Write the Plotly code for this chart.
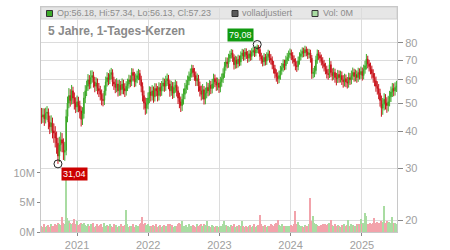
import plotly.graph_objects as go
import pandas as pd
import math

dates = pd.date_range("2020-07-03", periods=261, freq="7D")

closes = [
44.8, 45.6, 44.2, 46.1, 46.5, 43.0, 41.5, 42.8, 40.2, 39.5,
38.0, 36.5, 33.0, 36.0, 37.5, 36.5, 34.0, 34.5, 45.0, 50.0,
53.0, 51.0, 55.0, 52.0, 50.0, 48.5, 50.5, 49.0, 47.0, 44.0,
46.0, 52.0, 55.0, 57.0, 60.0, 58.0, 61.0, 62.0, 59.0, 57.0,
58.5, 56.0, 55.0, 53.5, 51.5, 51.0, 55.0, 59.0, 61.0, 60.0,
62.5, 63.5, 59.0, 58.0, 56.5, 58.0, 55.0, 57.5, 55.5, 58.0,
56.0, 55.0, 57.0, 58.0, 60.0, 59.0, 63.5, 62.0, 59.0, 60.5,
62.0, 63.0, 60.0, 57.0, 53.0, 50.0, 48.0, 49.5, 52.0, 54.5,
53.0, 55.0, 52.5, 56.0, 55.0, 53.0, 56.5, 55.0, 57.0, 58.5,
57.0, 59.5, 60.5, 58.0, 55.0, 57.0, 54.0, 56.5, 57.5, 55.0,
52.0, 50.5, 49.0, 51.5, 53.5, 56.0, 57.5, 59.5, 61.5, 63.0,
65.5, 63.5, 62.0, 59.5, 60.5, 57.0, 55.0, 53.5, 55.5, 51.5,
54.0, 56.5, 55.0, 57.5, 56.0, 58.0, 60.5, 59.0, 57.5, 58.5,
56.5, 59.0, 60.5, 63.0, 66.5, 69.0, 68.0, 71.0, 73.0, 74.0,
71.5, 67.5, 70.0, 68.0, 70.5, 69.0, 72.5, 74.0, 72.0, 74.5,
73.0, 71.0, 73.5, 72.0, 74.5, 75.5, 74.0, 76.0, 77.5, 76.0,
72.0, 70.5, 69.0, 71.5, 69.5, 72.0, 73.5, 71.0, 70.0, 67.5,
65.5, 63.0, 61.5, 60.5, 62.0, 64.5, 66.0, 68.0, 67.0, 70.0,
71.5, 73.0, 74.0, 72.5, 70.5, 69.0, 67.0, 66.5, 69.5, 72.0,
73.5, 75.0, 74.0, 76.0, 74.5, 73.0, 74.0, 71.0, 63.0, 63.5,
64.5, 70.0, 73.5, 72.5, 71.0, 69.5, 68.0, 66.5, 65.0, 63.0,
62.5, 67.5, 63.5, 62.0, 63.5, 61.0, 60.5, 62.5, 61.0, 62.0,
60.0, 59.0, 60.5, 59.0, 58.5, 61.0, 60.0, 62.0, 63.5, 61.5,
62.5, 61.0, 63.5, 62.5, 64.0, 62.0, 65.0, 67.0, 70.5, 68.0,
66.5, 65.0, 63.0, 61.0, 59.5, 57.0, 56.0, 54.0, 51.0, 48.0,
49.5, 51.5, 50.0, 49.0, 50.5, 52.5, 54.5, 56.0, 55.0, 56.5,
57.23]

opens = [
45.3, 44.8, 45.6, 44.2, 46.1, 46.5, 43.0, 41.5, 42.8, 40.2,
39.5, 38.0, 36.5, 33.0, 36.0, 37.5, 36.5, 34.0, 34.5, 45.0,
50.0, 53.0, 51.0, 55.0, 52.0, 50.0, 48.5, 50.5, 49.0, 47.0,
44.0, 46.0, 52.0, 55.0, 57.0, 60.0, 58.0, 61.0, 62.0, 59.0,
57.0, 58.5, 56.0, 55.0, 53.5, 51.5, 51.0, 55.0, 59.0, 61.0,
60.0, 62.5, 63.5, 59.0, 58.0, 56.5, 58.0, 55.0, 57.5, 55.5,
58.0, 56.0, 55.0, 57.0, 58.0, 60.0, 59.0, 63.5, 62.0, 59.0,
60.5, 62.0, 63.0, 60.0, 57.0, 53.0, 50.0, 48.0, 49.5, 52.0,
54.5, 53.0, 55.0, 52.5, 56.0, 55.0, 53.0, 56.5, 55.0, 57.0,
58.5, 57.0, 59.5, 60.5, 58.0, 55.0, 57.0, 54.0, 56.5, 57.5,
55.0, 52.0, 50.5, 49.0, 51.5, 53.5, 56.0, 57.5, 59.5, 61.5,
63.0, 65.5, 63.5, 62.0, 59.5, 60.5, 57.0, 55.0, 53.5, 55.5,
51.5, 54.0, 56.5, 55.0, 57.5, 56.0, 58.0, 60.5, 59.0, 57.5,
58.5, 56.5, 59.0, 60.5, 63.0, 66.5, 69.0, 68.0, 71.0, 73.0,
74.0, 71.5, 67.5, 70.0, 68.0, 70.5, 69.0, 72.5, 74.0, 72.0,
74.5, 73.0, 71.0, 73.5, 72.0, 74.5, 75.5, 74.0, 76.0, 77.5,
76.0, 72.0, 70.5, 69.0, 71.5, 69.5, 72.0, 73.5, 71.0, 70.0,
67.5, 65.5, 63.0, 61.5, 60.5, 62.0, 64.5, 66.0, 68.0, 67.0,
70.0, 71.5, 73.0, 74.0, 72.5, 70.5, 69.0, 67.0, 66.5, 69.5,
72.0, 73.5, 75.0, 74.0, 76.0, 74.5, 73.0, 74.0, 71.0, 63.0,
63.5, 64.5, 70.0, 73.5, 72.5, 71.0, 69.5, 68.0, 66.5, 65.0,
63.0, 62.5, 67.5, 63.5, 62.0, 63.5, 61.0, 60.5, 62.5, 61.0,
62.0, 60.0, 59.0, 60.5, 59.0, 58.5, 61.0, 60.0, 62.0, 63.5,
61.5, 62.5, 61.0, 63.5, 62.5, 64.0, 62.0, 65.0, 67.0, 70.5,
68.0, 66.5, 65.0, 63.0, 61.0, 59.5, 57.0, 56.0, 54.0, 51.0,
48.0, 49.5, 51.5, 50.0, 49.0, 50.5, 52.5, 54.5, 56.0, 55.0,
56.5]

highs = [
48.1, 48.0, 47.9, 48.2, 48.8, 47.9, 45.3, 45.4, 44.6, 42.6,
41.7, 40.0, 38.1, 38.4, 39.8, 39.5, 37.9, 36.9, 47.5, 52.6,
56.2, 55.7, 57.6, 56.8, 54.3, 52.3, 53.0, 52.5, 50.9, 48.7,
48.4, 54.5, 57.5, 59.6, 62.7, 62.2, 64.5, 64.6, 63.9, 61.3,
61.1, 60.6, 58.5, 57.2, 55.6, 54.0, 57.4, 61.5, 63.6, 63.2,
64.9, 65.8, 65.1, 61.4, 60.2, 60.7, 59.8, 60.0, 59.4, 60.6,
60.0, 58.4, 59.3, 60.5, 62.4, 62.1, 65.7, 65.5, 63.8, 63.0,
64.4, 65.3, 64.8, 61.9, 58.8, 55.1, 52.2, 52.0, 54.3, 57.0,
56.8, 57.5, 56.9, 58.4, 58.3, 57.1, 58.8, 58.5, 59.4, 61.0,
60.5, 61.9, 63.0, 62.3, 59.8, 59.5, 58.9, 58.9, 60.0, 59.3,
56.9, 54.2, 52.6, 53.8, 56.0, 58.5, 59.9, 62.0, 64.0, 65.5,
67.5, 67.3, 65.8, 64.0, 63.0, 62.3, 59.1, 57.3, 58.0, 57.1,
56.4, 59.0, 58.5, 59.8, 59.5, 60.4, 62.9, 62.5, 61.1, 61.0,
60.3, 61.4, 63.0, 65.6, 69.0, 71.5, 71.4, 73.5, 75.3, 76.3,
75.9, 73.2, 72.4, 72.0, 73.0, 72.5, 74.9, 76.4, 76.0, 76.9,
76.7, 75.1, 75.8, 75.5, 76.8, 77.7, 77.4, 78.2, 79.08, 78.7,
77.6, 74.1, 72.6, 73.9, 73.4, 74.4, 75.9, 75.3, 73.3, 72.0,
69.5, 67.4, 65.1, 63.6, 64.4, 66.9, 68.4, 70.4, 70.2, 72.4,
74.0, 75.4, 76.6, 76.0, 74.5, 72.6, 71.0, 69.4, 71.9, 74.4,
76.0, 77.3, 77.1, 78.3, 77.8, 76.5, 76.4, 75.9, 72.8, 65.8,
66.9, 72.4, 76.0, 75.7, 74.5, 73.1, 71.6, 70.1, 68.5, 67.0,
65.3, 71.2, 69.4, 65.6, 65.9, 65.4, 63.3, 64.8, 64.5, 64.4,
64.0, 62.2, 62.9, 62.5, 61.3, 63.4, 63.2, 64.5, 66.0, 65.4,
65.0, 64.5, 65.9, 65.6, 66.5, 66.0, 67.5, 69.6, 73.4, 72.4,
70.1, 68.6, 67.0, 65.1, 63.2, 61.5, 59.3, 58.0, 55.9, 53.0,
52.0, 54.0, 53.6, 52.3, 52.9, 55.0, 56.9, 58.5, 58.3, 58.8,
59.5]

lows = [
42.5, 42.8, 41.8, 42.6, 43.7, 40.7, 39.2, 39.6, 37.9, 36.6,
35.3, 33.6, 31.04, 31.5, 34.2, 34.0, 32.0, 31.8, 33.2, 43.0,
48.0, 48.6, 49.4, 49.6, 47.5, 46.2, 46.6, 46.5, 44.3, 41.6,
42.1, 44.3, 50.0, 52.8, 55.0, 55.7, 56.0, 58.6, 56.4, 54.4,
54.9, 53.5, 52.4, 51.0, 49.1, 48.7, 49.2, 53.0, 56.9, 57.5,
58.0, 60.2, 57.0, 55.4, 54.0, 54.4, 52.6, 52.9, 53.0, 53.6,
53.5, 52.4, 53.0, 54.9, 56.0, 56.6, 57.1, 59.5, 56.6, 56.9,
58.4, 59.8, 57.6, 54.4, 50.6, 47.5, 45.6, 46.0, 47.6, 50.0,
50.6, 51.0, 50.1, 50.6, 52.7, 50.6, 51.0, 52.6, 52.9, 54.8,
54.6, 55.0, 57.2, 55.7, 52.5, 52.9, 51.6, 52.0, 54.2, 52.6,
49.6, 48.0, 46.6, 47.0, 49.4, 51.5, 53.9, 55.4, 57.5, 59.4,
61.0, 61.2, 59.5, 57.1, 57.2, 54.6, 52.6, 51.0, 51.4, 49.4,
49.5, 51.9, 52.7, 53.0, 53.6, 53.9, 56.0, 56.6, 55.0, 55.2,
54.1, 54.4, 56.8, 58.5, 60.9, 64.4, 65.6, 65.9, 68.9, 70.8,
69.0, 65.0, 65.4, 65.6, 66.0, 66.7, 67.0, 70.4, 69.6, 70.0,
70.6, 68.5, 69.0, 69.6, 69.9, 72.4, 71.7, 72.0, 73.9, 73.6,
69.7, 68.0, 66.6, 66.9, 67.1, 67.4, 69.9, 68.6, 67.6, 65.1,
63.0, 60.6, 59.1, 58.0, 58.4, 60.0, 62.4, 63.9, 64.6, 64.9,
67.9, 69.4, 70.9, 70.0, 68.1, 66.6, 64.6, 63.8, 64.6, 67.5,
69.9, 71.4, 71.6, 72.0, 72.1, 70.6, 70.9, 68.6, 60.4, 60.7,
61.2, 62.6, 68.0, 70.1, 68.6, 67.1, 65.6, 64.0, 62.6, 60.6,
60.0, 60.8, 61.2, 59.6, 60.0, 58.6, 57.4, 58.5, 58.6, 58.7,
57.6, 56.4, 56.9, 56.6, 56.0, 56.4, 57.6, 57.9, 60.0, 59.1,
59.2, 58.6, 59.0, 60.1, 60.4, 59.6, 60.2, 62.9, 65.0, 65.6,
64.0, 62.6, 60.5, 58.6, 57.0, 54.6, 53.4, 51.5, 48.6, 44.9,
45.6, 47.2, 47.5, 46.3, 46.8, 48.7, 50.4, 52.4, 52.7, 53.0,
54.5]

volumes_m = [
1.1, 0.9, 1.3, 0.8, 1.0, 1.2, 0.9, 1.4, 1.0, 1.1,
1.3, 1.2, 1.6, 1.4, 1.2, 2.5, 1.5, 1.3, 9.0, 2.3,
1.8, 1.6, 1.4, 1.5, 2.2, 1.3, 1.9, 1.2, 1.4, 1.6,
1.3, 1.5, 1.2, 1.1, 1.4, 1.0, 1.3, 1.2, 1.5, 0.9,
1.1, 1.4, 1.0, 1.2, 1.3, 0.9, 1.5, 1.1, 1.2, 1.0,
1.4, 1.1, 0.9, 1.3, 1.0, 1.2, 0.8, 1.1, 1.3, 0.9,
1.0, 1.2, 3.7, 1.3, 0.9, 1.1, 1.0, 1.4, 0.8, 1.2,
1.0, 1.1, 1.3, 1.5, 2.6, 1.4, 1.6, 1.2, 1.3, 1.0,
1.1, 0.9, 1.2, 1.0, 1.3, 0.8, 1.1, 1.2, 0.9, 1.0,
1.2, 1.1, 0.9, 1.3, 1.4, 1.0, 1.2, 0.9, 1.1, 1.0,
1.3, 1.5, 1.4, 1.8, 1.1, 1.0, 1.2, 0.9, 1.3, 1.1,
1.0, 1.2, 1.1, 0.9, 1.3, 1.0, 1.2, 1.4, 1.1, 1.3,
1.2, 1.8, 1.0, 1.1, 0.8, 1.2, 1.0, 0.9, 1.1, 1.0,
0.8, 1.0, 1.1, 1.3, 1.8, 1.2, 1.0, 1.1, 0.9, 1.2,
1.0, 1.3, 0.9, 1.1, 1.0, 1.2, 1.1, 1.9, 1.0, 0.9,
1.1, 0.9, 1.0, 1.2, 0.8, 1.0, 1.3, 0.9, 1.1, 1.2,
2.8, 1.3, 1.1, 1.0, 1.2, 0.9, 1.1, 1.0, 1.3, 1.2,
1.1, 1.4, 1.6, 2.1, 1.2, 1.0, 1.3, 0.9, 1.1, 1.0,
0.9, 1.1, 1.0, 1.2, 1.1, 1.3, 3.6, 1.4, 1.7, 1.2,
1.0, 1.1, 0.9, 1.2, 1.0, 1.1, 1.3, 5.8, 1.9, 2.7,
1.5, 1.3, 1.2, 1.1, 1.0, 1.2, 1.3, 1.1, 1.4, 1.2,
1.3, 1.6, 2.0, 1.2, 1.1, 1.3, 1.0, 1.2, 1.1, 0.9,
1.2, 1.1, 1.3, 1.0, 1.2, 2.1, 1.1, 1.3, 1.2, 1.0,
1.1, 1.3, 1.2, 1.4, 2.2, 1.3, 1.5, 3.2, 2.7, 1.4,
1.3, 1.5, 1.4, 1.6, 2.4, 1.5, 1.7, 1.5, 1.6, 1.9,
1.7, 4.4, 1.6, 1.8, 1.5, 1.7, 1.6, 2.5, 1.5, 1.6,
1.4]

year_ticks = ["2021-01-01", "2022-01-01", "2023-01-01", "2024-01-01", "2025-01-01"]
year_labels = ["2021", "2022", "2023", "2024", "2025"]
price_ticks = [20, 30, 40, 50, 60, 70, 80]
vol_ticks = [0, 5, 10]
vol_labels = ["0M", "5M", "10M"]

legend_ohlc = "Op:56.18, Hi:57.34, Lo:56.13, Cl:57.23"
title_text = "5 Jahre, 1-Tages-Kerzen"

GREEN = "#3daa2a"
RED = "#c8141c"
VGREEN = "#a9dca2"
VRED = "#f2a3ab"
FONT = "Liberation Sans, Arial, sans-serif"

vol_colors = [VGREEN if c >= o else VRED for o, c in zip(opens, closes)]

i_max = highs.index(max(highs))
i_min = lows.index(min(lows))

fig = go.Figure()
fig.add_trace(go.Bar(x=dates, y=volumes_m, marker=dict(color=vol_colors, line=dict(width=0)),
                     yaxis="y", showlegend=False, hoverinfo="skip"))
fig.add_trace(go.Candlestick(x=dates, open=opens, high=highs, low=lows, close=closes,
                             increasing=dict(line=dict(color=GREEN, width=1), fillcolor=GREEN),
                             decreasing=dict(line=dict(color=RED, width=1), fillcolor=RED),
                             yaxis="y2", showlegend=False))
fig.add_trace(go.Scatter(x=[dates[i_max], dates[i_min]], y=[highs[i_max], lows[i_min]],
                         mode="markers", yaxis="y2", showlegend=False,
                         marker=dict(symbol="circle-open", size=8, color="#222", line=dict(width=1))))

L, R, T, B = 41, 53, 7, 18
W, H = 450, 250
pw, ph = W - L - R, H - T - B

def px(xp):
    return (xp - L) / pw

def py(yp):
    return 1 - (yp - T) / ph

lo_log = math.log10(20) - 12 / 294.0
fig.update_layout(
    width=W, height=H, margin=dict(l=L, r=R, t=T, b=B, autoexpand=False),
    paper_bgcolor="white", plot_bgcolor="white",
    bargap=0, showlegend=False,
    font=dict(family=FONT, color="#999", size=11),
    xaxis=dict(type="date", range=["2020-06-30", "2025-06-30"], tickvals=year_ticks, ticktext=year_labels,
               showgrid=True, gridcolor="#dcdcdc", gridwidth=1, ticks="outside", ticklen=3, tickcolor="#888",
               showline=True, linecolor="#c8c8c8", mirror=True, rangeslider=dict(visible=False),
               tickfont=dict(size=11, color="#a0a0a0"), zeroline=False, automargin=False),
    yaxis=dict(range=[0, 38.1], side="left", tickvals=vol_ticks, ticktext=vol_labels, showgrid=False,
               ticks="outside", ticklen=3, tickcolor="#888", showline=True, linecolor="#c8c8c8",
               zeroline=False, tickfont=dict(size=11, color="#a0a0a0"), ticklabelstandoff=0, automargin=False),
    yaxis2=dict(type="log", range=[lo_log, lo_log + 225 / 294.0],
                overlaying="y", side="right", tickvals=price_ticks, ticktext=[str(v) for v in price_ticks],
                showgrid=True, gridcolor="#dcdcdc", ticks="outside", ticklen=5, tickcolor="#888",
                showline=True, linecolor="#c8c8c8", zeroline=False, tickfont=dict(size=11, color="#a0a0a0"),
                automargin=False),
)

# legend band
fig.add_shape(type="rect", xref="paper", yref="paper", x0=0, x1=1, y0=py(19), y1=1,
              fillcolor="#e6e6e6", line=dict(color="#d0d0d0", width=1), layer="below")
for x0, fill in [(46.5, GREEN), (232, "#5a5a5a"), (312, VGREEN)]:
    fig.add_shape(type="rect", xref="paper", yref="paper", x0=px(x0), x1=px(x0 + 6), y0=py(16.5), y1=py(10.5),
                  fillcolor=fill, line=dict(color="#333", width=1), layer="above")
for x0, txt in [(55, legend_ohlc), (240, "volladjustiert"), (320.5, "Vol: 0M")]:
    fig.add_annotation(xref="paper", yref="paper", x=px(x0), y=py(13.5), text=txt, showarrow=False,
                       xanchor="left", yanchor="middle", font=dict(size=9, color="#8c8c8c", family=FONT))

fig.add_annotation(xref="paper", yref="paper", x=px(46), y=py(30.5), text="<b>" + title_text + "</b>",
                   showarrow=False, xanchor="left", yanchor="middle", font=dict(size=12, color="#8a8a8a", family=FONT))

fig.add_annotation(x=dates[i_max], y=math.log10(highs[i_max]), xref="x", yref="y2",
                   text=f"{highs[i_max]:.2f}".replace(".", ","), showarrow=False,
                   xanchor="right", yanchor="bottom", xshift=-3, yshift=2,
                   bgcolor="#109a10", borderpad=1, font=dict(size=9, color="white", family=FONT))
fig.add_annotation(x=dates[i_min], y=math.log10(lows[i_min]), xref="x", yref="y2",
                   text=f"{lows[i_min]:.2f}".replace(".", ","), showarrow=False,
                   xanchor="left", yanchor="top", xshift=3, yshift=-3,
                   bgcolor="#cc0000", borderpad=1, font=dict(size=9, color="white", family=FONT))

fig.write_html("out.html")
